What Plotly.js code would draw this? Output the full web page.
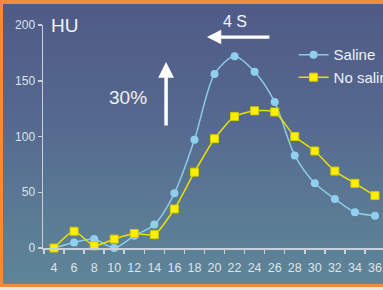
<!DOCTYPE html>
<html>
<head>
<meta charset="utf-8">
<script src="https://cdn.plot.ly/plotly-3.0.1.min.js"></script>
<style>
  html, body { margin:0; padding:0; width:383px; height:290px; overflow:hidden; }
  #bg { position:absolute; left:0; top:0; width:383px; height:290px;
        background: linear-gradient(to bottom, #4f5a86 0%, #55688e 40%, #5b7b95 75%, #5e8698 100%); }
  #chart { position:absolute; left:0; top:0; width:383px; height:290px; }
  .ob { position:absolute; background:#f08a3c; pointer-events:none; }
</style>
</head>
<body>
<div id="bg"></div>
<div id="chart"></div>
<div class="ob" style="left:0;top:0;width:383px;height:4px;"></div>
<div class="ob" style="left:0;top:0;width:3px;height:287px;"></div>
<div class="ob" style="left:0;top:284px;width:383px;height:3px;"></div>
<div style="position:absolute;left:0;top:287px;width:383px;height:3px;background:#efe6df;"></div>
<script>
const timeLabels = ['4','6','8','10','12','14','16','18','20','22','24','26','28','30','32','34','36'];
const salineHU   = [0, 5, 8, 0, 11, 21, 49, 97, 156, 172, 158, 131, 83, 58, 44, 32, 29];
const noSalineHU = [0, 15, 2, 8, 13, 12, 35, 68, 98, 118, 123, 122, 100, 87, 69, 58, 47];
const yTicks = [0, 50, 100, 150, 200];

const tickColor = '#dfe3ea';
const axisColor = '#c9d0dc';

const traces = [
  {
    x: timeLabels, y: salineHU, name: 'Saline', type: 'scatter', mode: 'lines+markers',
    line: {color: '#8ccbe8', width: 1.5, shape: 'spline', smoothing: 0.8},
    marker: {symbol: 'circle', size: 8, color: '#90d0ee'},
    cliponaxis: false
  },
  {
    x: timeLabels, y: noSalineHU, name: 'No saline', type: 'scatter', mode: 'lines+markers',
    line: {color: '#ece000', width: 1.5, shape: 'spline', smoothing: 0.6},
    marker: {symbol: 'square', size: 8, color: '#fff000', line: {color: '#d8c800', width: 1}},
    cliponaxis: false
  }
];

const layout = {
  width: 383, height: 290,
  margin: {l: 43, r: 0, t: 25, b: 42, autoexpand: false},
  paper_bgcolor: 'rgba(0,0,0,0)',
  plot_bgcolor: 'rgba(0,0,0,0)',
  font: {family: 'Liberation Sans, Arial, sans-serif', color: tickColor},
  showlegend: true,
  legend: {
    x: 0.737, y: 0.94, xanchor: 'left', yanchor: 'top',
    bgcolor: 'rgba(0,0,0,0)', itemwidth: 30, tracegroupgap: 0,
    font: {size: 15, color: '#eef0f4'}
  },
  xaxis: {
    type: 'category',
    range: [-0.55, 16.4],
    showline: true, linecolor: axisColor, linewidth: 1.5,
    ticks: 'outside', ticklen: 4, tickcolor: axisColor, tickwidth: 1.5,
    tickson: 'boundaries',
    tickangle: 0,
    showgrid: false, zeroline: false,
    tickfont: {size: 12.5, color: tickColor},
    ticklabelstandoff: 7,
    fixedrange: true
  },
  yaxis: {
    range: [0, 200],
    tickvals: yTicks,
    showline: true, linecolor: axisColor, linewidth: 1.5,
    ticks: 'outside', ticklen: 4, tickcolor: axisColor, tickwidth: 1.5,
    showgrid: false, zeroline: false,
    tickfont: {size: 12, color: tickColor},
    fixedrange: true
  },
  annotations: [
    {xref: 'paper', yref: 'paper', x: 0.018, y: 1.0, xanchor: 'left', yanchor: 'middle',
     text: 'HU', showarrow: false, font: {size: 19, color: '#f2f4f8'}},
    {xref: 'paper', yref: 'paper', x: 0.565, y: 1.015, xanchor: 'center', yanchor: 'middle',
     text: '4 S', showarrow: false, font: {size: 16, color: '#f2f4f8'}},
    {xref: 'paper', yref: 'paper', x: 0.482, y: 0.946, text: '', showarrow: true,
     ax: 64, ay: 0, arrowhead: 2, arrowsize: 0.9, arrowwidth: 3.2, arrowcolor: '#ffffff'},
    {xref: 'paper', yref: 'paper', x: 0.25, y: 0.677, xanchor: 'center', yanchor: 'middle',
     text: '30%', showarrow: false, font: {size: 19, color: '#eef0f4'}},
    {xref: 'paper', yref: 'paper', x: 0.362, y: 0.834, text: '', showarrow: true,
     ax: 0, ay: 65, arrowhead: 2, arrowsize: 0.9, arrowwidth: 3.5, arrowcolor: '#ffffff'}
  ]
};

Plotly.newPlot('chart', traces, layout, {displayModeBar: false, staticPlot: true});
</script>
</body>
</html>
